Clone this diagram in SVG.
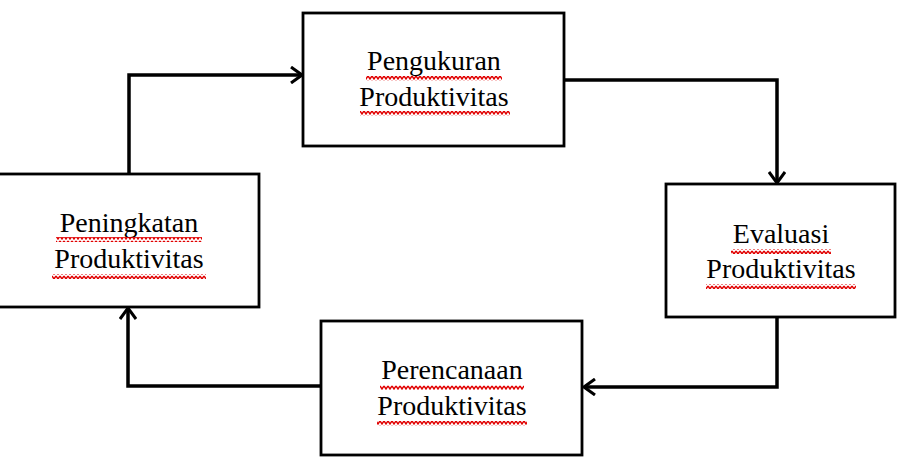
<svg xmlns="http://www.w3.org/2000/svg" width="901" height="461" viewBox="0 0 901 461">
<style>
.box{fill:#fff;stroke:#000;stroke-width:2.8}
.t{font-family:"Liberation Serif","Times New Roman",serif;font-size:28px;fill:#000;text-anchor:middle}
.c{fill:none;stroke:#000;stroke-width:3.5;stroke-linejoin:miter}
.w{fill:url(#wavy)}
</style>
<defs>
<pattern id="wavy" patternUnits="userSpaceOnUse" width="4" height="5">
<polyline points="0,1 2,4 4,1" fill="none" stroke="#e00000" stroke-width="1.4"/>
</pattern>
<marker id="arr" viewBox="0 0 14 18" refX="13" refY="9" markerWidth="14" markerHeight="18" markerUnits="userSpaceOnUse" orient="auto">
<polyline points="2,1 13,9 2,17" fill="none" stroke="#000" stroke-width="3"/>
</marker>
</defs>
<g id="connectors">
<polyline class="c" points="129,174 129,75 302,75" marker-end="url(#arr)"/>
<polyline class="c" points="564,80 777,80 777,183" marker-end="url(#arr)"/>
<polyline class="c" points="777,317 777,387 584,387" marker-end="url(#arr)"/>
<polyline class="c" points="321,386 128,386 128,308" marker-end="url(#arr)"/>
</g>
<g id="pengukuran">
<rect class="box" x="303" y="13" width="261" height="133"/>
<text class="t" x="434" y="70">Pengukuran</text>
<text class="t" x="434" y="106">Produktivitas</text>
<rect class="w" x="366" y="76" width="136" height="5"/>
<rect class="w" x="360" y="111" width="150" height="5"/>
</g>
<g id="evaluasi">
<rect class="box" x="666" y="184" width="229" height="133"/>
<text class="t" x="781" y="243">Evaluasi</text>
<text class="t" x="781" y="278">Produktivitas</text>
<rect class="w" x="731" y="249" width="100" height="5"/>
<rect class="w" x="706" y="284" width="150" height="5"/>
</g>
<g id="perencanaan">
<rect class="box" x="321" y="321" width="261" height="134"/>
<text class="t" x="452" y="379">Perencanaan</text>
<text class="t" x="452" y="415">Produktivitas</text>
<rect class="w" x="380" y="385" width="144" height="5"/>
<rect class="w" x="377" y="421" width="150" height="5"/>
</g>
<g id="peningkatan">
<rect class="box" x="-2" y="174" width="261" height="133"/>
<text class="t" x="129" y="232">Peningkatan</text>
<text class="t" x="129" y="268">Produktivitas</text>
<rect class="w" x="56" y="237" width="146" height="5"/>
<rect class="w" x="52" y="274" width="154" height="5"/>
</g>
</svg>
